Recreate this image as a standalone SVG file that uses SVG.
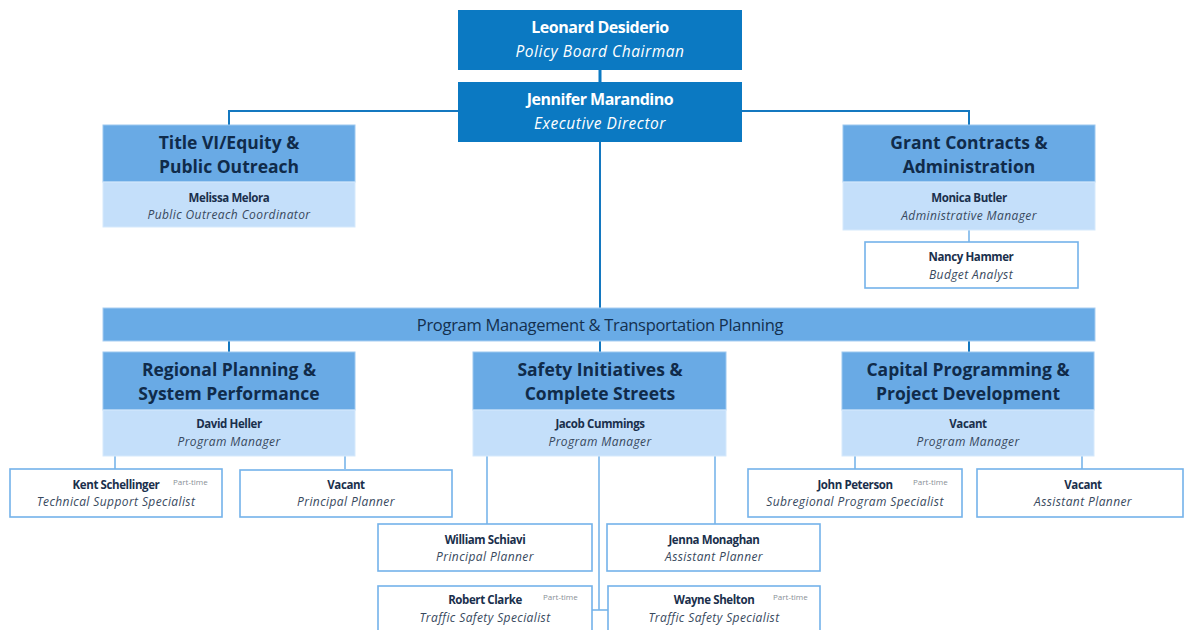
<svg xmlns="http://www.w3.org/2000/svg" width="1186" height="630" viewBox="0 0 1186 630">
<style>
.bg{fill:#ffffff}
.top{fill:#0b79c2}
.hdr{fill:#69aae5;stroke:#9cc8f0;stroke-width:1}
.sub{fill:#c4dffa;stroke:#d6e9fc;stroke-width:1}
.box{fill:#ffffff;stroke:#74b2ea;stroke-width:1.6}
.bar{fill:#69abe6;stroke:#a7cdf2;stroke-width:1}
.c1{fill:none;stroke:#1478c0;stroke-width:2}
.c2{fill:none;stroke:#78b5ea;stroke-width:1.6}
text{font-family:"Open Sans","Liberation Sans",sans-serif;text-anchor:middle}
.tn{fill:#ffffff;font-weight:700;font-size:16px;letter-spacing:-0.5px}
.tr{fill:#ffffff;font-style:italic;font-size:15.5px;letter-spacing:0.55px}
.h{fill:#102b4a;font-weight:700;font-size:17.5px;letter-spacing:0px}
.n{fill:#1a2f4c;font-weight:700;font-size:11.5px;letter-spacing:-0.4px}
.r{fill:#38495e;font-style:italic;font-size:12px;letter-spacing:0.4px}
.pt{fill:#8a8f96;font-size:8px;text-anchor:start}
.bt{fill:#14304f;font-size:16.5px;letter-spacing:-0.3px}
</style>
<rect class="bg" x="0" y="0" width="1186" height="630"/>
<g id="connectors">
<line x1="600" y1="70" x2="600" y2="82" stroke="#0b79c2" stroke-width="3"/>
<polyline class="c1" points="458,111 229,111 229,125"/>
<polyline class="c1" points="742,111 969,111 969,125"/>
<line class="c1" x1="600" y1="142" x2="600" y2="308"/>
<line class="c2" x1="969" y1="230" x2="969" y2="242"/>
<line class="c1" x1="229" y1="341" x2="229" y2="352"/>
<line class="c1" x1="600" y1="341" x2="600" y2="352"/>
<line class="c1" x1="969" y1="341" x2="969" y2="352"/>
<line class="c2" x1="115" y1="456" x2="115" y2="469"/>
<line class="c2" x1="345" y1="456" x2="345" y2="469"/>
<line class="c2" x1="855" y1="456" x2="855" y2="469"/>
<line class="c2" x1="1082" y1="456" x2="1082" y2="469"/>
<line class="c2" x1="487" y1="456" x2="487" y2="524"/>
<line class="c2" x1="715" y1="456" x2="715" y2="524"/>
<polyline class="c2" points="599,456 599,610"/>
<line class="c2" x1="592" y1="610" x2="608" y2="610"/>
</g>
<g id="leonard">
<rect class="top" x="458" y="10" width="284" height="60"/>
<text class="tn" x="600" y="33">Leonard Desiderio</text>
<text class="tr" x="600" y="57">Policy Board Chairman</text>
</g>
<g id="jennifer">
<rect class="top" x="458" y="82" width="284" height="60"/>
<text class="tn" x="600" y="105">Jennifer Marandino</text>
<text class="tr" x="600" y="129">Executive Director</text>
</g>
<g id="title6">
<rect class="hdr" x="103" y="125" width="252" height="57"/>
<rect class="sub" x="103" y="182" width="252" height="45"/>
<text class="h" x="229" y="149">Title VI/Equity &amp;</text>
<text class="h" x="229" y="173">Public Outreach</text>
<text class="n" x="229" y="202">Melissa Melora</text>
<text class="r" x="229" y="219">Public Outreach Coordinator</text>
</g>
<g id="grant">
<rect class="hdr" x="843" y="125" width="252" height="57"/>
<rect class="sub" x="843" y="182" width="252" height="48"/>
<text class="h" x="969" y="149">Grant Contracts &amp;</text>
<text class="h" x="969" y="173">Administration</text>
<text class="n" x="969" y="202">Monica Butler</text>
<text class="r" x="969" y="220">Administrative Manager</text>
</g>
<g id="nancy">
<rect class="box" x="865" y="242" width="213" height="46"/>
<text class="n" x="971" y="261">Nancy Hammer</text>
<text class="r" x="971" y="279">Budget Analyst</text>
</g>
<g id="program">
<rect class="bar" x="103" y="308" width="992" height="33"/>
<text class="bt" x="600" y="331">Program Management &amp; Transportation Planning</text>
</g>
<g id="regional">
<rect class="hdr" x="103" y="352" width="252" height="58"/>
<rect class="sub" x="103" y="410" width="252" height="46"/>
<text class="h" x="229" y="376">Regional Planning &amp;</text>
<text class="h" x="229" y="400">System Performance</text>
<text class="n" x="229" y="428">David Heller</text>
<text class="r" x="229" y="446">Program Manager</text>
</g>
<g id="safety">
<rect class="hdr" x="473" y="352" width="253" height="58"/>
<rect class="sub" x="473" y="410" width="253" height="46"/>
<text class="h" x="600" y="376">Safety Initiatives &amp;</text>
<text class="h" x="600" y="400">Complete Streets</text>
<text class="n" x="600" y="428">Jacob Cummings</text>
<text class="r" x="600" y="446">Program Manager</text>
</g>
<g id="capital">
<rect class="hdr" x="842" y="352" width="252" height="58"/>
<rect class="sub" x="842" y="410" width="252" height="46"/>
<text class="h" x="968" y="376">Capital Programming &amp;</text>
<text class="h" x="968" y="400">Project Development</text>
<text class="n" x="968" y="428">Vacant</text>
<text class="r" x="968" y="446">Program Manager</text>
</g>
<g id="kent">
<rect class="box" x="10" y="469" width="212" height="48"/>
<text class="n" x="116" y="489">Kent Schellinger</text>
<text class="pt" x="173" y="485">Part-time</text>
<text class="r" x="116" y="506">Technical Support Specialist</text>
</g>
<g id="vacant-pp">
<rect class="box" x="240" y="470" width="212" height="47"/>
<text class="n" x="346" y="489">Vacant</text>
<text class="r" x="346" y="506">Principal Planner</text>
</g>
<g id="john">
<rect class="box" x="748" y="469" width="214" height="48"/>
<text class="n" x="855" y="489">John Peterson</text>
<text class="pt" x="913" y="485">Part-time</text>
<text class="r" x="855" y="506">Subregional Program Specialist</text>
</g>
<g id="vacant-ap">
<rect class="box" x="977" y="469" width="206" height="48"/>
<text class="n" x="1083" y="489">Vacant</text>
<text class="r" x="1083" y="506">Assistant Planner</text>
</g>
<g id="william">
<rect class="box" x="378" y="524" width="214" height="47"/>
<text class="n" x="485" y="544">William Schiavi</text>
<text class="r" x="485" y="561">Principal Planner</text>
</g>
<g id="jenna">
<rect class="box" x="607" y="524" width="213" height="47"/>
<text class="n" x="714" y="544">Jenna Monaghan</text>
<text class="r" x="714" y="561">Assistant Planner</text>
</g>
<g id="robert">
<rect class="box" x="378" y="586" width="214" height="50"/>
<text class="n" x="485" y="604">Robert Clarke</text>
<text class="pt" x="543" y="600">Part-time</text>
<text class="r" x="485" y="622">Traffic Safety Specialist</text>
</g>
<g id="wayne">
<rect class="box" x="608" y="586" width="212" height="50"/>
<text class="n" x="714" y="604">Wayne Shelton</text>
<text class="pt" x="773" y="600">Part-time</text>
<text class="r" x="714" y="622">Traffic Safety Specialist</text>
</g>
</svg>
